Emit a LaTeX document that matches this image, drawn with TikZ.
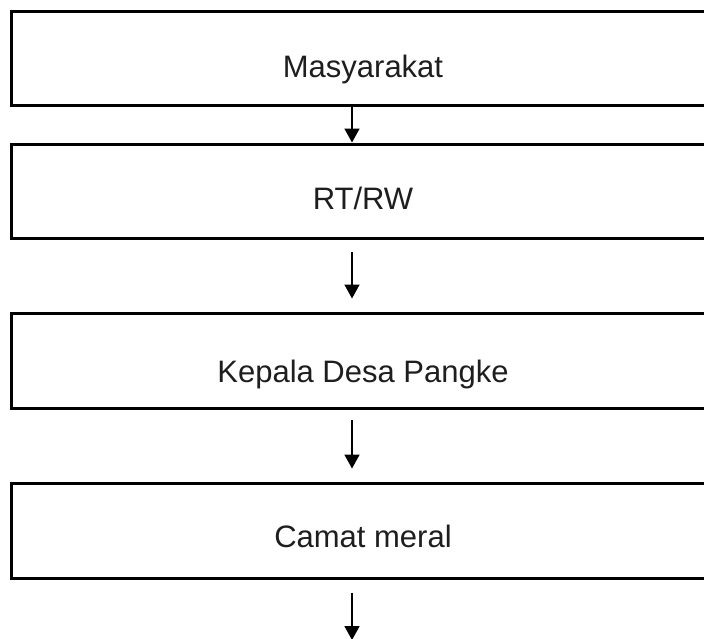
\documentclass[tikz,border=0pt]{standalone}
\usepackage{fontspec}
\setmainfont{Liberation Sans}
\usetikzlibrary{arrows.meta}
\definecolor{txt}{HTML}{1E1E1E}
\begin{document}
\begin{tikzpicture}[x=1pt,y=-1pt,
  stagebox/.style={draw=black, line width=3pt, rectangle, minimum width=704pt,
    inner sep=0pt, text=txt, font=\fontsize{31}{36}\selectfont, text depth=0pt},
  arr/.style={line width=1.8pt, -{Triangle[length=14pt,width=15pt]}}]
\clip (0,0) rectangle (704,638);
\fill[white] (0,0) rectangle (704,638);
\node[stagebox, minimum height=94pt, text height=38pt] (b1) at (363,58) {Masyarakat};
\node[stagebox, minimum height=94pt, text height=36pt] (b2) at (363,191) {RT/RW};
\node[stagebox, minimum height=95pt, text height=43pt] (b3) at (363,360.5) {Kepala Desa Pangke};
\node[stagebox, minimum height=95pt, text height=33pt] (b4) at (363,530.5) {Camat meral};
\coordinate (ax) at (352,0);
\coordinate (end) at (352,640);
\draw[arr] (b1.south -| ax) -- (b2.north -| ax);
\draw[arr, shorten <=12pt, shorten >=13pt] (b2.south -| ax) -- (b3.north -| ax);
\draw[arr, shorten <=10pt, shorten >=13pt] (b3.south -| ax) -- (b4.north -| ax);
\draw[arr, shorten <=13pt] (b4.south -| ax) -- (end);
\end{tikzpicture}
\end{document}
